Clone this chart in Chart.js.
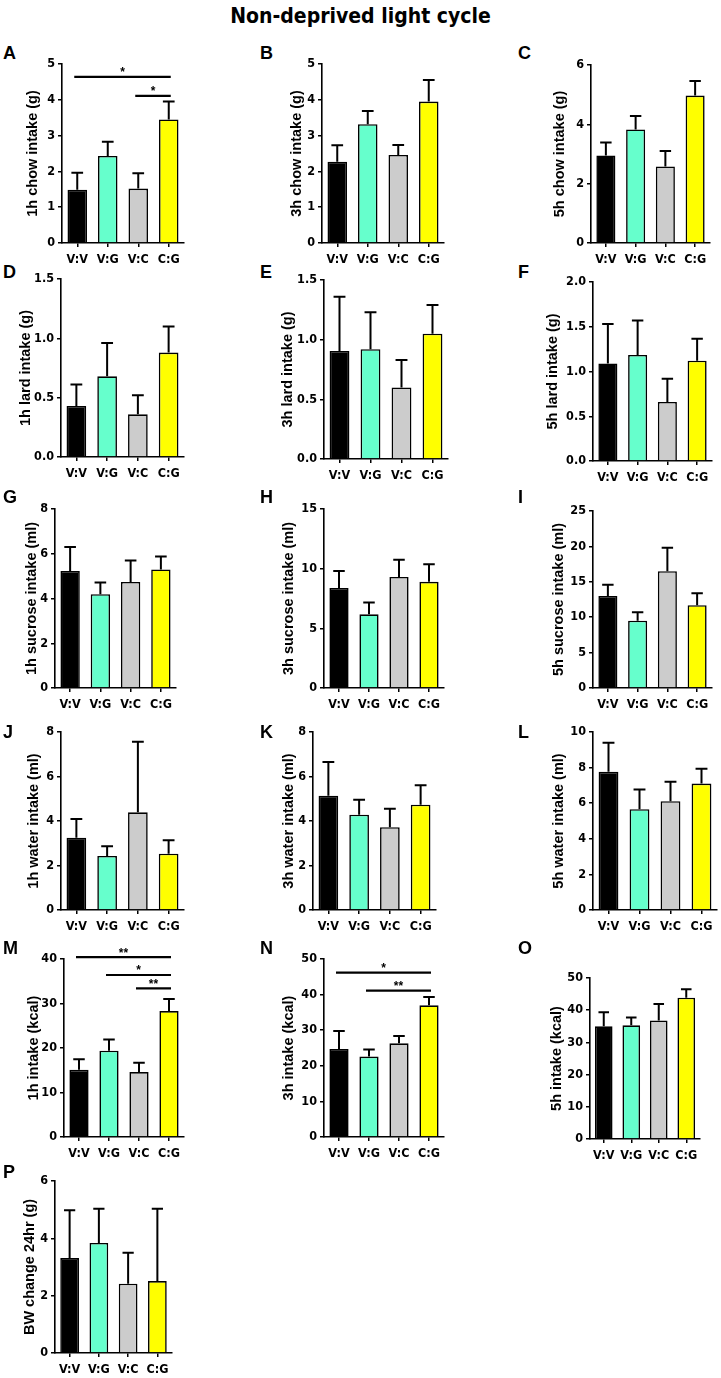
<!DOCTYPE html>
<html>
<head>
<meta charset="utf-8">
<title>Non-deprived light cycle</title>
<script src="https://cdn.jsdelivr.net/npm/chart.js@4.4.1/dist/chart.umd.min.js"></script>
<style>
  body { margin: 0; background: #fff; }
  #page { position: relative; width: 721px; height: 1378px; overflow: hidden; background: #fff; }
  #page canvas { position: absolute; }
  .letter { position: absolute; font: bold 18px 'Liberation Sans', Arial, sans-serif; color: #000; line-height: 18px; }
  #title { position: absolute; left: 0; top: 4px; width: 721px; text-align: center; color: #000;
           font: bold 21px 'Liberation Sans Narrow', 'DejaVu Sans Condensed', 'Arial Narrow', sans-serif; }
</style>
</head>
<body>
<div id="page">
  <div id="title">Non-deprived light cycle</div>
</div>
<script>
// groups on the x axis
const groups = ["V:V", "V:G", "V:C", "C:G"];
const barColors = ["#000000", "#66ffcc", "#cccccc", "#ffff00"];

// means and SEM (upper whisker)
const chow1h = [1.49, 2.43, 1.52, 3.45];
const chow1hSem = [0.47, 0.40, 0.43, 0.50];
const chow3h = [2.27, 3.32, 2.46, 3.95];
const chow3hSem = [0.46, 0.37, 0.28, 0.60];
const chow5h = [2.95, 3.83, 2.58, 4.97];
const chow5hSem = [0.44, 0.45, 0.52, 0.49];

const lard1h = [0.43, 0.68, 0.36, 0.88];
const lard1hSem = [0.18, 0.28, 0.16, 0.22];
const lard3h = [0.905, 0.92, 0.60, 1.05];
const lard3hSem = [0.455, 0.31, 0.23, 0.24];
const lard5h = [1.09, 1.185, 0.66, 1.12];
const lard5hSem = [0.44, 0.385, 0.26, 0.245];

const sucrose1h = [5.23, 4.19, 4.74, 5.30];
const sucrose1hSem = [1.07, 0.52, 0.96, 0.58];
const sucrose3h = [8.39, 6.17, 9.30, 8.90];
const sucrose3hSem = [1.41, 1.00, 1.45, 1.46];
const sucrose5h = [13.0, 9.5, 16.5, 11.7];
const sucrose5hSem = [1.6, 1.2, 3.3, 1.7];

const water1h = [3.25, 2.43, 4.39, 2.53];
const water1hSem = [0.84, 0.44, 3.17, 0.60];
const water3h = [5.14, 4.28, 3.72, 4.73];
const water3hSem = [1.51, 0.68, 0.83, 0.88];
const water5h = [7.76, 5.66, 6.11, 7.10];
const water5hSem = [1.64, 1.11, 1.09, 0.83];

const kcal1h = [15.1, 19.4, 14.6, 28.3];
const kcal1hSem = [2.4, 2.5, 2.1, 2.7];
const kcal3h = [24.7, 22.6, 26.3, 37.0];
const kcal3hSem = [5.1, 2.0, 2.1, 2.3];
const kcal5h = [35.0, 35.3, 36.8, 43.9];
const kcal5hSem = [4.4, 2.4, 5.1, 2.6];

const bwChange = [3.31, 3.84, 2.42, 2.51];
const bwChangeSem = [1.67, 1.19, 1.08, 2.52];

// significance brackets: [from group, to group, height in data units, label]
const chow1hSig = [[0, 3, 4.64, "*"], [2, 3, 4.11, "*"]];
const kcal1hSig = [[0, 3, 40.4, "**"], [1, 3, 36.4, "*"], [2, 3, 33.4, "**"]];
const kcal3hSig = [[0, 3, 46.2, "*"], [1, 3, 41.1, "**"]];

// y tick labels
const ticks5 = ["0", "1", "2", "3", "4", "5"];
const ticks6 = ["0", "2", "4", "6"];
const ticks8 = ["0", "2", "4", "6", "8"];
const ticks10 = ["0", "2", "4", "6", "8", "10"];
const ticks15 = ["0", "5", "10", "15"];
const ticks25 = ["0", "5", "10", "15", "20", "25"];
const ticks40 = ["0", "10", "20", "30", "40"];
const ticks50 = ["0", "10", "20", "30", "40", "50"];
const ticksLard15 = ["0.0", "0.5", "1.0", "1.5"];
const ticksLard20 = ["0.0", "0.5", "1.0", "1.5", "2.0"];

const NARROW = "'Liberation Sans Narrow', 'DejaVu Sans Condensed', 'Arial Narrow', sans-serif";
const SANS = "'Liberation Sans', Arial, sans-serif";
const TITLE_SIZE = 14.5;

// panel layout: ax = y axis x, end = x axis end, top/zero = pixel rows of max tick and 0, tx = y title centre
const panels = [
  { id: "A", mean: chow1h, sem: chow1hSem, ticks: ticks5, title: "1h chow intake (g)", sig: chow1hSig, ax: 62, end: 184, top: 64, zero: 243, tx: 33, lx: 3, ly: 44 },
  { id: "B", mean: chow3h, sem: chow3hSem, ticks: ticks5, title: "3h chow intake (g)", ax: 322, end: 444, top: 64, zero: 243, tx: 297, lx: 260, ly: 44 },
  { id: "C", mean: chow5h, sem: chow5hSem, ticks: ticks6, title: "5h chow intake (g)", ax: 591, end: 710, top: 65, zero: 243, tx: 560, lx: 518, ly: 44 },
  { id: "D", mean: lard1h, sem: lard1hSem, ticks: ticksLard15, title: "1h lard intake (g)", ax: 61, end: 184, top: 279, zero: 457, tx: 26, lx: 3, ly: 263 },
  { id: "E", mean: lard3h, sem: lard3hSem, ticks: ticksLard15, title: "3h lard intake (g)", ax: 324, end: 448, top: 280, zero: 459, tx: 288, lx: 260, ly: 263 },
  { id: "F", mean: lard5h, sem: lard5hSem, ticks: ticksLard20, title: "5h lard intake (g)", ax: 593, end: 712, top: 282, zero: 461, tx: 553, lx: 518, ly: 263 },
  { id: "G", mean: sucrose1h, sem: sucrose1hSem, ticks: ticks8, title: "1h sucrose intake (ml)", ax: 55, end: 176, top: 509, zero: 688, tx: 32, lx: 3, ly: 488 },
  { id: "H", mean: sucrose3h, sem: sucrose3hSem, ticks: ticks15, title: "3h sucrose intake (ml)", ax: 324, end: 444, top: 509, zero: 688, tx: 289, lx: 260, ly: 488 },
  { id: "I", mean: sucrose5h, sem: sucrose5hSem, ticks: ticks25, title: "5h sucrose intake (ml)", ax: 593, end: 712, top: 511, zero: 688, tx: 559, lx: 518, ly: 488 },
  { id: "J", mean: water1h, sem: water1hSem, ticks: ticks8, title: "1h water intake (ml)", ax: 61, end: 184, top: 732, zero: 910, tx: 34, lx: 3, ly: 723 },
  { id: "K", mean: water3h, sem: water3hSem, ticks: ticks8, title: "3h water intake (ml)", ax: 313, end: 436, top: 732, zero: 910, tx: 289, lx: 260, ly: 723 },
  { id: "L", mean: water5h, sem: water5hSem, ticks: ticks10, title: "5h water intake (ml)", ax: 593, end: 717, top: 732, zero: 910, tx: 559, lx: 518, ly: 723 },
  { id: "M", mean: kcal1h, sem: kcal1hSem, ticks: ticks40, title: "1h intake (kcal)", sig: kcal1hSig, ax: 64, end: 184, top: 959, zero: 1137, tx: 34, lx: 3, ly: 939 },
  { id: "N", mean: kcal3h, sem: kcal3hSem, ticks: ticks50, title: "3h intake (kcal)", sig: kcal3hSig, ax: 324, end: 444, top: 959, zero: 1137, tx: 289, lx: 260, ly: 939 },
  { id: "O", mean: kcal5h, sem: kcal5hSem, ticks: ticks50, title: "5h intake (kcal)", ax: 590, end: 700, top: 978, zero: 1139, tx: 557, lx: 518, ly: 939 },
  { id: "P", mean: bwChange, sem: bwChangeSem, ticks: ticks6, title: "BW change 24hr (g)", ax: 55, end: 172, top: 1181, zero: 1353, tx: 30, lx: 3, ly: 1163 }
];

// upper error bars
const errorBars = {
  id: "errorBars",
  afterDatasetsDraw(chart, args, opts) {
    const ctx = chart.ctx;
    const y = chart.scales.y;
    const bars = chart.getDatasetMeta(0).data;
    const vals = chart.data.datasets[0].data;
    ctx.save();
    ctx.strokeStyle = "#000";
    ctx.lineWidth = 2;
    bars.forEach((bar, i) => {
      const yTop = y.getPixelForValue(vals[i] + opts.sem[i]);
      const cap = bar.width * 0.3;
      ctx.beginPath();
      ctx.moveTo(bar.x, bar.y);
      ctx.lineTo(bar.x, yTop);
      ctx.moveTo(bar.x - cap, yTop);
      ctx.lineTo(bar.x + cap, yTop);
      ctx.stroke();
    });
    ctx.restore();
  }
};

// significance lines with stars
const sigBars = {
  id: "sigBars",
  afterDraw(chart, args, opts) {
    if (!opts.lines) return;
    const ctx = chart.ctx;
    const x = chart.scales.x;
    const y = chart.scales.y;
    ctx.save();
    ctx.strokeStyle = "#000";
    ctx.fillStyle = "#000";
    ctx.lineWidth = 2.2;
    ctx.font = "bold 12px " + SANS;
    ctx.textAlign = "center";
    ctx.textBaseline = "bottom";
    opts.lines.forEach(([a, b, v, label]) => {
      const x0 = x.getPixelForValue(a) - 3;
      const x1 = x.getPixelForValue(b) + 2;
      const yy = y.getPixelForValue(v);
      ctx.beginPath();
      ctx.moveTo(x0, yy);
      ctx.lineTo(x1, yy);
      ctx.stroke();
      ctx.fillText(label, (x0 + x1) / 2, yy + 2);
    });
    ctx.restore();
  }
};

const page = document.getElementById("page");

panels.forEach(p => {
  const padTop = 12, xAxisH = 28, padRight = 6;
  const left = Math.round(p.tx - TITLE_SIZE * 0.6);
  const top = p.top - padTop;
  const w = Math.round(p.end - left + padRight);
  const h = Math.round(p.zero - p.top + padTop + xAxisH);
  const tickVals = p.ticks.map(Number);

  const letter = document.createElement("div");
  letter.className = "letter";
  letter.textContent = p.id;
  letter.style.left = p.lx + "px";
  letter.style.top = p.ly + "px";
  page.appendChild(letter);

  const cv = document.createElement("canvas");
  cv.width = w;
  cv.height = h;
  cv.style.left = left + "px";
  cv.style.top = top + "px";
  cv.style.width = w + "px";
  cv.style.height = h + "px";
  page.appendChild(cv);

  new Chart(cv.getContext("2d"), {
    type: "bar",
    data: {
      labels: groups,
      datasets: [{
        data: p.mean,
        backgroundColor: barColors,
        borderColor: "#000",
        borderWidth: 1.6,
        barPercentage: 0.64,
        categoryPercentage: 1.0
      }]
    },
    options: {
      responsive: false,
      animation: false,
      events: [],
      layout: { padding: { top: padTop, right: padRight, left: 0, bottom: 0 } },
      plugins: {
        legend: { display: false },
        tooltip: { enabled: false },
        errorBars: { sem: p.sem },
        sigBars: { lines: p.sig }
      },
      scales: {
        x: {
          offset: true,
          grid: { offset: false, drawOnChartArea: false, drawTicks: true, tickLength: 4, color: "#000", lineWidth: 1.5 },
          border: { display: true, color: "#000", width: 1.6 },
          ticks: { color: "#000", padding: 5, maxRotation: 0, autoSkip: false, font: { family: NARROW, size: 12.5, weight: "bold" } },
          afterFit: s => { s.height = xAxisH; }
        },
        y: {
          min: 0,
          max: tickVals[tickVals.length - 1],
          grid: { drawOnChartArea: false, drawTicks: true, tickLength: 4, color: "#000", lineWidth: 1.5 },
          border: { display: true, color: "#000", width: 1.6 },
          ticks: {
            color: "#000", padding: 3, autoSkip: false,
            font: { family: NARROW, size: 12.5, weight: "bold" },
            callback: (v, i) => p.ticks[i]
          },
          afterBuildTicks: s => { s.ticks = tickVals.map(v => ({ value: v })); },
          title: { display: true, text: p.title, color: "#000", padding: 0, font: { family: SANS, size: TITLE_SIZE, weight: "bold" } },
          afterFit: s => { s.width = p.ax - left; }
        }
      }
    },
    plugins: [errorBars, sigBars]
  });
});
</script>
</body>
</html>
